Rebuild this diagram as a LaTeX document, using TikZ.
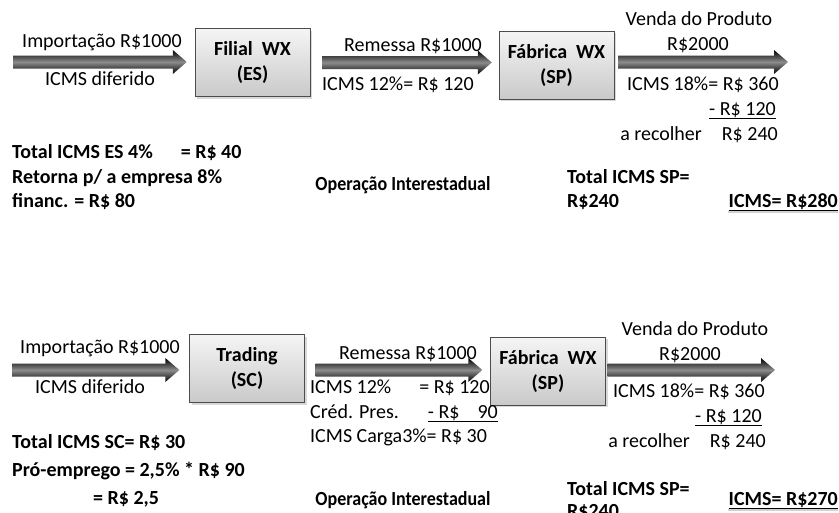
\documentclass[tikz,border=0pt]{standalone}
\usepackage{fontspec}
\setmainfont{Carlito}
\usepackage{xcolor}
\usetikzlibrary{shadows, positioning, calc}

\newcommand{\fnt}{\fontsize{20}{25}\selectfont}
% seta de bloco sombreada, de #1 ate #2 (na altura de #1)
\newcommand{\setabloco}[2]{%
  \shade[seta] let \p1=(#1), \p2=(#2) in
    (\x1,\y1+6.5pt) -- (\x2-14pt,\y1+6.5pt) -- (\x2-14pt,\y1+12pt) -- (\x2,\y1)
    -- (\x2-14pt,\y1-12pt) -- (\x2-14pt,\y1-6.5pt) -- (\x1,\y1-6.5pt) -- cycle;}

\tikzset{
  caixa/.style={draw=gray!60!black, top color=gray!8, bottom color=gray!42,
    minimum width=115pt, minimum height=68pt, align=center, font=\fnt\bfseries,
    drop shadow={opacity=0.3, shadow xshift=2pt, shadow yshift=-2pt}},
  txt/.style={inner sep=0pt, text height=14pt, text depth=4pt, font=\fnt},
  negr/.style={txt, font=\fnt\bfseries},
  seta/.style={top color=black, bottom color=black, middle color=black!45},
}

\begin{document}
\begin{tikzpicture}[x=1pt, y=-1pt]
\useasboundingbox (0,0) rectangle (839,512);

% --- OPERACAO 1: Filial WX (ES) ---
\node[caixa] (filial) at (252.5,62.5) {Filial\ \ WX\\(ES)};
\node[caixa] (fabrica) at (556.5,65) {Fábrica\ \ WX\\(SP)};
\coordinate (imp) at (13,62);
\coordinate (venda) at (788,62);

\setabloco{imp}{$(filial.west)+(-8,0)$}
\setabloco{$(filial.east)+(12,0)$}{$(fabrica.west)+(-7,0)$}
\setabloco{$(fabrica.east)+(4,-3)$}{venda}

\node[txt] (imp1) at (102,42) {Importação R\$1000};
\node[txt] (dif1) at (100,80) {ICMS diferido};
\node[txt] (rem1) at (413,46) {Remessa R\$1000};
\node[txt, anchor=west] (icms12) at (322,85) {ICMS 12\%= R\$ 120};
\node[txt] (vd1) at (699,20) {Venda do Produto};
\node[txt] (vv1) at (698,45) {R\$2000};
\node[txt, anchor=west] (icms18) at (627,85) {ICMS 18\%= R\$ 360};
\node[txt, anchor=east] (menos1) at (776,110) {\underline{- R\$ 120}};
\node[txt, anchor=east] (rec1) at (778,135) {a recolher\quad R\$ 240};

\node[negr, anchor=west] (es1) at (12,153) {Total ICMS ES 4\%\hspace{28pt}= R\$ 40};
\node[negr, anchor=west] (es2) at (12,178) {Retorna p/ a empresa 8\%};
\node[negr, anchor=west] (es3) at (12,202) {financ. = R\$ 80};
\node[negr] (op1) at (403,185) {\scalebox{0.9}[1]{Operação Interestadual}};
\node[negr, anchor=west] (sp1) at (567,178) {Total ICMS SP=};
\node[negr, anchor=west] (sp2) at (567,202) {R\$240};
\node[negr, anchor=east] (tot1) at (838,202) {\underline{ICMS= R\$280}};
\draw[gray!35, line width=2pt] ([yshift=-1pt]tot1.south west) -- ([yshift=-1pt]tot1.south east);

% --- OPERACAO 2: Trading (SC) ---
\node[caixa] (trading) at (247,368.5) {Trading\\(SC)};
\node[caixa] (fabricab) at (548,371) {Fábrica\ \ WX\\(SP)};
\coordinate (impb) at (12,370);
\coordinate (vendab) at (775,370);

\setabloco{impb}{$(trading.west)+(-10,0)$}
\setabloco{$(trading.east)+(11,1.5)$}{$(fabricab.west)+(-8,0)$}
\setabloco{$(fabricab.east)+(2,-1)$}{vendab}

\node[txt] (imp2) at (100,348) {Importação R\$1000};
\node[txt] (dif2) at (90,388) {ICMS diferido};
\node[txt] (rem2) at (408,354) {Remessa R\$1000};
\node[txt, anchor=west] (c12) at (310,388) {ICMS 12\%\hspace{28pt}= R\$ 120};
\node[txt, anchor=west] (cp) at (310,413) {Créd. Pres.};
\node[txt, anchor=east] (cp90) at (498,413) {\underline{- R\$\hspace{18pt}90}};
\node[txt, anchor=west] (carga) at (310,437) {ICMS Carga3\%= R\$ 30};
\node[txt] (vd2) at (695,330) {Venda do Produto};
\node[txt] (vv2) at (690,355) {R\$2000};
\node[txt, anchor=west] (c18) at (613,392) {ICMS 18\%= R\$ 360};
\node[txt, anchor=east] (menos2) at (762,417) {\underline{- R\$ 120}};
\node[txt, anchor=east] (rec2) at (766,442) {a recolher\quad R\$ 240};

\node[negr, anchor=west] (sc1) at (12,443) {Total ICMS SC= R\$ 30};
\node[negr, anchor=west] (sc2) at (12,471) {Pró-emprego = 2,5\% * R\$ 90};
\node[negr, anchor=west] (sc3) at (93,499) {= R\$ 2,5};
\node[negr] (op2) at (403,500) {\scalebox{0.9}[1]{Operação Interestadual}};
\node[negr, anchor=west] (sp3) at (567,490) {Total ICMS SP=};
\node[negr, anchor=west] (sp4) at (567,512) {R\$240};
\node[negr, anchor=east] (tot2) at (838,500) {\underline{ICMS= R\$270}};
\draw[gray!35, line width=2pt] ([yshift=-1pt]tot2.south west) -- ([yshift=-1pt]tot2.south east);
\end{tikzpicture}
\end{document}
